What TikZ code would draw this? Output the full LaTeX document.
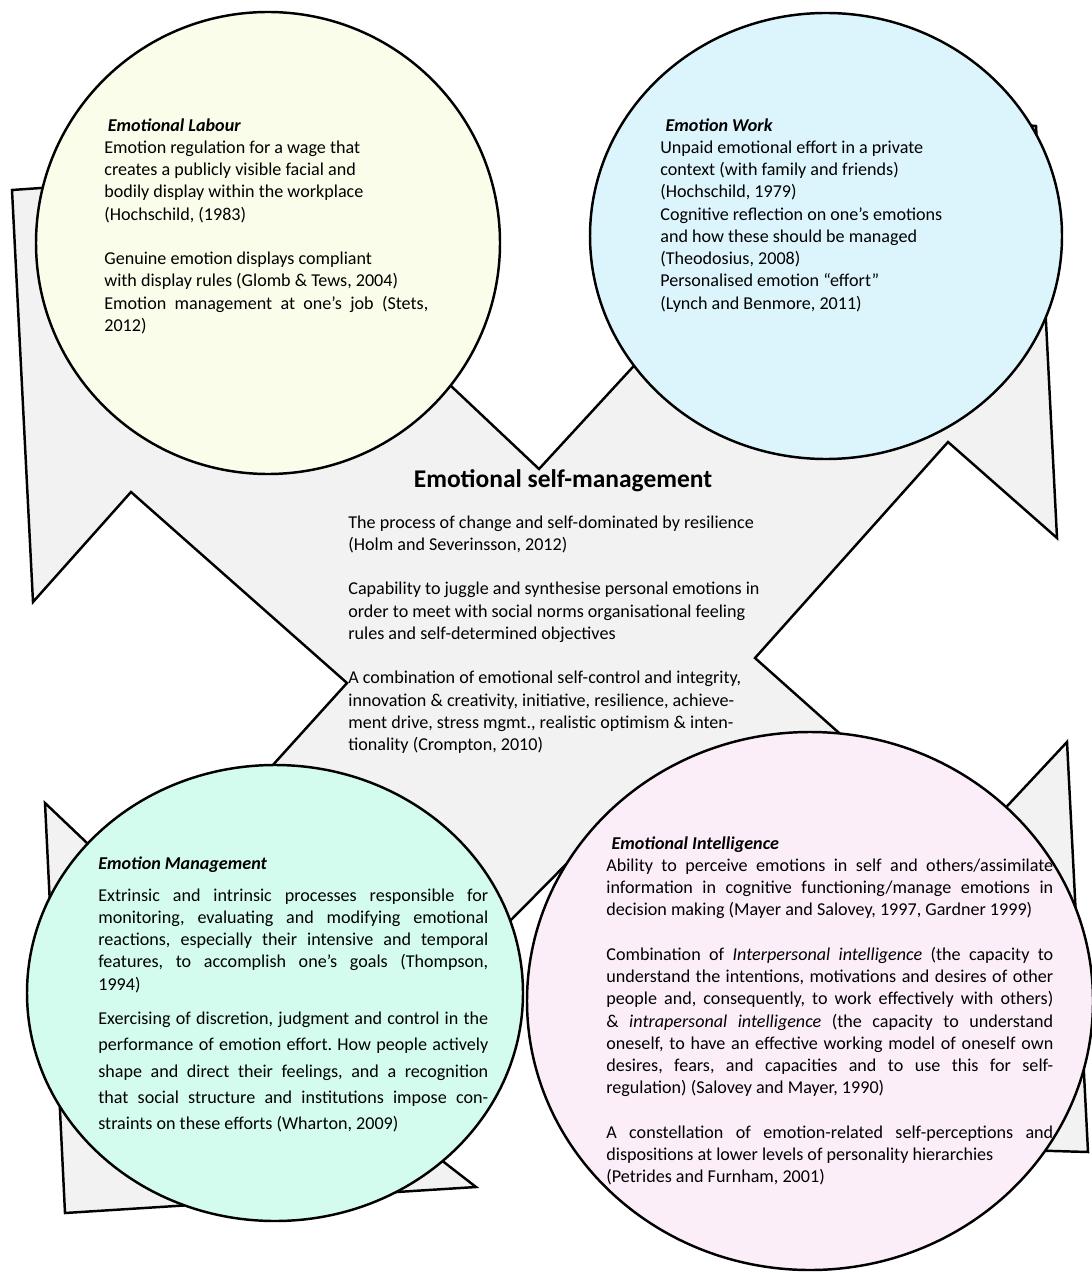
\documentclass[tikz,border=0pt]{standalone}
\usepackage{fontspec}
\setmainfont{Carlito}
\frenchspacing
\definecolor{labourfill}{HTML}{FAFDE9}
\definecolor{workfill}{HTML}{DCF5FD}
\definecolor{mgmtfill}{HTML}{D3FCEF}
\definecolor{intelfill}{HTML}{FCEEF9}
\definecolor{panelfill}{HTML}{F2F2F2}
\newcommand{\fitline}[2]{\makebox[#1][s]{#2}}
\tikzset{
  bubble/.style={draw=black, line width=1.4pt},
  panel/.style={draw=black, line width=1.4pt, line join=miter, fill=panelfill},
  txt/.style={anchor=north west, inner sep=0pt, align=left, font=\fontsize{10.3}{12.65}\selectfont}
}
\begin{document}
\begin{tikzpicture}[x=0.02cm, y=-0.02cm]
\useasboundingbox (0,0) rectangle (1091,1273);

% grey background shape
\draw[panel] (12,190) -- (200,177) -- (380,319) -- (539,469) -- (700,294) -- (900,115)
  -- (1036,126) -- (1057,538) -- (948,442) -- (755,658) -- (968,848) -- (1067,742)
  -- (1088,1152) -- (677,1140) -- (600,830) -- (420,1012) -- (400,1128) -- (476,1187)
  -- (65,1213) -- (45,803) -- (149,902) -- (347,683) -- (131,492) -- (33,602) -- cycle;

% the four bubbles
\draw[bubble, fill=labourfill] (268,243) ellipse [x radius=232, y radius=231];
\draw[bubble, fill=workfill] (826,236) ellipse [x radius=236, y radius=223];
\draw[bubble, fill=mgmtfill] (275,993) ellipse [x radius=248, y radius=228];
\draw[bubble, fill=intelfill] (810,1001) ellipse [x radius=283, y radius=269];

\node[txt] (labour) at (104,116) {\rule{0pt}{8.5pt}\hspace*{2pt}\textbf{\textit{Emotional Labour}}\\
Emotion regulation for a wage that\\
creates a publicly visible facial and\\
bodily display within the workplace\\
(Hochschild, (1983)\\
~\\
Genuine emotion displays compliant\\
with display rules (Glomb \& Tews, 2004)\\
\fitline{6.48cm}{Emotion management at one's job (Stets,}\\
2012)};

\node[txt] (work) at (660,116) {\rule{0pt}{8.5pt}\hspace*{3pt}\textbf{\textit{Emotion Work}}\\
Unpaid emotional effort in a private\\
context (with family and friends)\\
(Hochschild, 1979)\\
Cognitive reflection on one's emotions\\
and how these should be managed\\
(Theodosius, 2008)\\
Personalised emotion “effort”\\
(Lynch and Benmore, 2011)};

\node[font=\fontsize{14.5}{18}\selectfont\bfseries, inner sep=0pt] (core) at (563,481) {Emotional self-management};

\node[txt] (coretext) at (348,513) {\rule{0pt}{8.5pt}The process of change and self-dominated by resilience\\
(Holm and Severinsson, 2012)\\
~\\
Capability to juggle and synthesise personal emotions in\\
order to meet with social norms organisational feeling\\
rules and self-determined objectives\\
~\\
A combination of emotional self-control and integrity,\\
innovation \& creativity, initiative, resilience, achieve-\\
ment drive, stress mgmt., realistic optimism \& inten-\\
tionality (Crompton, 2010)};

\node[txt] (mgmthead) at (98,854) {\rule{0pt}{8.5pt}\textbf{\textit{Emotion Management}}};
\node[txt] (mgmtA) at (98,886) {\rule{0pt}{8.5pt}\fitline{7.8cm}{Extrinsic and intrinsic processes responsible for}\\
\fitline{7.8cm}{monitoring, evaluating and modifying emotional}\\
\fitline{7.8cm}{reactions, especially their intensive and temporal}\\
\fitline{7.8cm}{features, to accomplish one's goals (Thompson,}\\
1994)};
\node[txt, font=\fontsize{10.3}{15}\selectfont] (mgmtB) at (98,1009) {\rule{0pt}{8.5pt}\fitline{7.8cm}{Exercising of discretion, judgment and control in the}\\
\fitline{7.8cm}{performance of emotion effort. How people actively}\\
\fitline{7.8cm}{shape and direct their feelings, and a recognition}\\
\fitline{7.8cm}{that social structure and institutions impose con-}\\
straints on these efforts (Wharton, 2009)};

\node[txt] (intel) at (606,834) {\rule{0pt}{8.5pt}\hspace*{3pt}\textbf{\textit{Emotional Intelligence}}\\
\fitline{8.94cm}{Ability to perceive emotions in self and others/assimilate}\\
\fitline{8.94cm}{information in cognitive functioning/manage emotions in}\\
decision making (Mayer and Salovey, 1997, Gardner 1999)\\
~\\
\fitline{8.94cm}{Combination of \textit{Interpersonal intelligence} (the capacity to}\\
\fitline{8.94cm}{understand the intentions, motivations and desires of other}\\
\fitline{8.94cm}{people and, consequently, to work effectively with others)}\\
\fitline{8.94cm}{\& \textit{intrapersonal intelligence} (the capacity to understand}\\
\fitline{8.94cm}{oneself, to have an effective working model of oneself own}\\
\fitline{8.94cm}{desires, fears, and capacities and to use this for self-}\\
regulation) (Salovey and Mayer, 1990)\\
~\\
\fitline{8.94cm}{A constellation of emotion-related self-perceptions and}\\
dispositions at lower levels of personality hierarchies\\
(Petrides and Furnham, 2001)};

\end{tikzpicture}
\end{document}
